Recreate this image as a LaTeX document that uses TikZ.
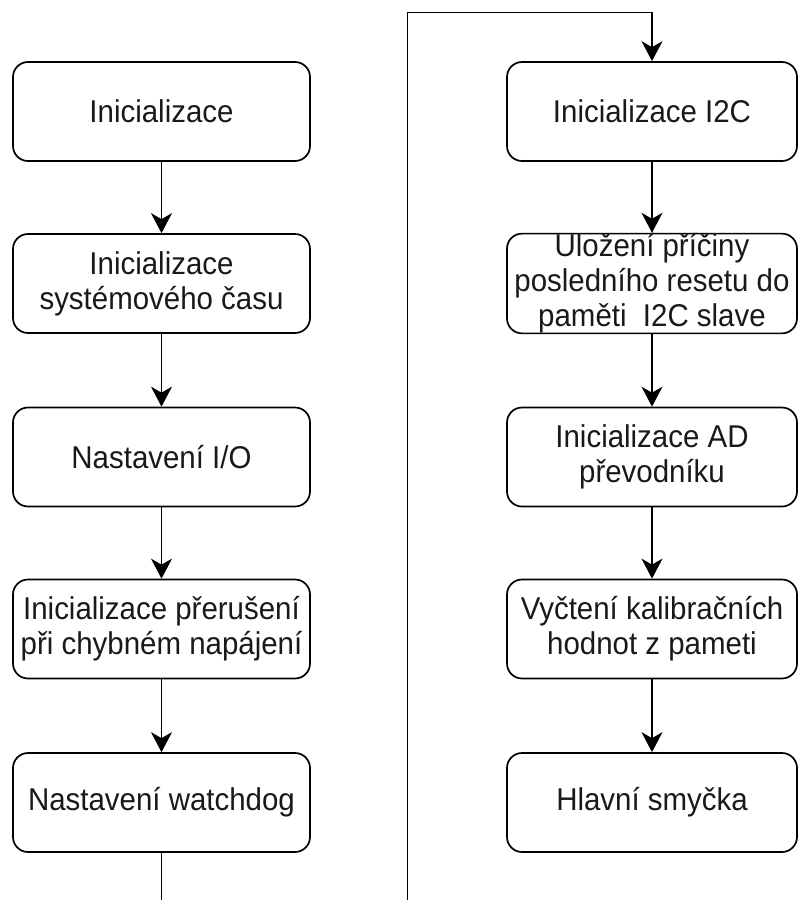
\documentclass[tikz,border=0pt]{standalone}
\usepackage{fontspec}
\setmainfont{Liberation Sans}[FakeStretch=0.935]
\usetikzlibrary{arrows.meta}
\begin{document}
\begin{tikzpicture}[x=1pt,y=-1pt,
 box/.style={draw, line width=1.7pt, rounded corners=15pt, inner sep=0pt, align=center, text=black!90, font=\fontsize{31.5}{35}\selectfont},
 lbox/.style={box, minimum width=297pt, minimum height=99pt},
 rbox/.style={box, minimum width=290pt, minimum height=99pt},
 arr/.style={line width=1.7pt, -{Stealth[length=20pt,width=21pt,inset=6pt]}}]
\useasboundingbox (0,0) rectangle (798,900);
\clip (0,0) rectangle (798,900);
\node[lbox] (l1) at (161.5,111.5) {Inicializace};
\node[lbox] (l2) at (161.5,283.5) {Inicializace\\systémového času};
\node[lbox] (l3) at (161.5,457) {Nastavení I/O};
\node[lbox] (l4) at (161.5,629) {Inicializace přerušení\\při chybném napájení};
\node[lbox] (l5) at (161.5,802.5) {Nastavení watchdog};
\node[rbox] (r1) at (652,111.5) {Inicializace I2C};
\node[rbox] (r2) at (652,283.5) {Uložení příčiny\\posledního resetu do\\paměti\ \ I2C slave};
\node[rbox] (r3) at (652,457) {Inicializace AD\\převodníku};
\node[rbox] (r4) at (652,629) {Vyčtení kalibračních\\hodnot z pameti};
\node[rbox] (r5) at (652,802.5) {Hlavní smyčka};
\draw[arr] (l1) -- (l2);
\draw[arr] (l2) -- (l3);
\draw[arr] (l3) -- (l4);
\draw[arr] (l4) -- (l5);
\draw[arr] (r1) -- (r2);
\draw[arr] (r2) -- (r3);
\draw[arr] (r3) -- (r4);
\draw[arr] (r4) -- (r5);
\coordinate (b1) at (161.5,900.5);
\coordinate (b2) at (407.5,900.5);
\coordinate (t1) at (407.5,12.5);
\coordinate (t2) at (652,12.5);
\draw[arr] (l5.south) -- (b1) -- (b2) -- (t1) -- (t2) -- (r1.north);
\end{tikzpicture}
\end{document}
